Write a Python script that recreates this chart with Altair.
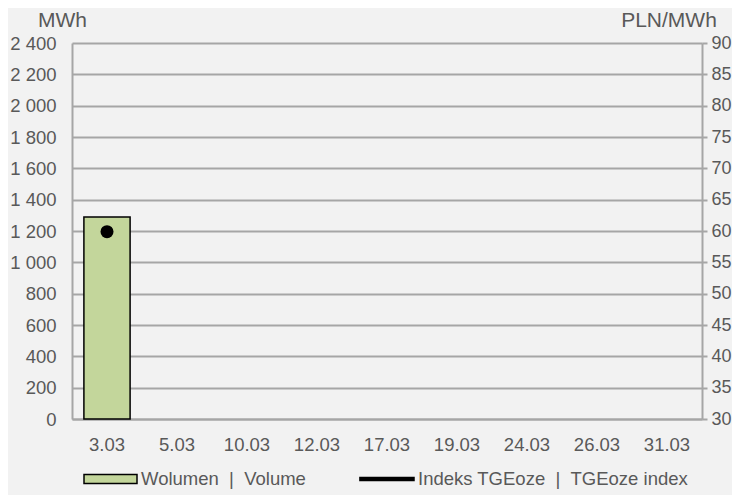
import altair as alt
import pandas as pd

dates = ["3.03", "5.03", "10.03", "12.03", "17.03", "19.03", "24.03", "26.03", "31.03"]
volume = [1290, None, None, None, None, None, None, None, None]
index_price = [59.9, None, None, None, None, None, None, None, None]
series_names = ["Wolumen\u00a0\u00a0|\u00a0\u00a0Volume",
                "Indeks TGEoze\u00a0\u00a0|\u00a0\u00a0TGEoze index"]
left_ticks = list(range(0, 2401, 200))
right_ticks = list(range(30, 91, 5))

rows = []
for d, v, p in zip(dates, volume, index_price):
    rows.append({"date": d, "series": series_names[0], "value": v})
    rows.append({"date": d, "series": series_names[1], "value": p})
df = pd.DataFrame(rows)

TXT = "#595959"
GRID = "#a6a6a6"
FONT = "Liberation Sans"

x_enc = alt.X(
    "date:N",
    sort=dates,
    scale=alt.Scale(domain=dates, paddingInner=0.34, paddingOuter=0.17),
    axis=alt.Axis(title=None, labelAngle=0, ticks=False, labelPadding=16,
                  labelFontSize=18.5, labelColor=TXT, domainColor=GRID,
                  domainWidth=2, labelFont=FONT),
)

bar = alt.Chart(df).transform_filter(
    alt.datum.series == series_names[0]
).mark_bar(fill="#c3d69b", stroke="black", strokeWidth=1.5).encode(
    x=x_enc,
    y=alt.Y(
        "value:Q",
        scale=alt.Scale(domain=[0, 2400], nice=False),
        axis=alt.Axis(
            title="MWh", titleAngle=0, titleX=-10, titleY=-17,
            titleAlign="center", titleBaseline="alphabetic",
            titleFontSize=21, titleFontWeight="normal", titleColor=TXT,
            titleFont=FONT, labelFont=FONT, labelOverlap=False,
            labelFontSize=18.5, labelColor=TXT, labelPadding=16,
            ticks=False, values=left_ticks, grid=True, gridColor=GRID,
            gridWidth=2, domainColor=GRID, domainWidth=2,
            labelExpr="replace(format(datum.value, ','), ',', ' ')",
        ),
    ),
)

legend_layer = alt.Chart(df).mark_point(
    filled=True, size=0, opacity=1, stroke="black", strokeWidth=1.5
).encode(
    x=alt.X("date:N", sort=dates),
    y=alt.Y("value:Q", axis=None),
    color=alt.Color(
        "series:N",
        scale=alt.Scale(domain=series_names, range=["#c3d69b", "black"]),
        legend=alt.Legend(
            title=None, orient="none", legendX=11, legendY=408.5,
            direction="horizontal", symbolStrokeColor="black",
            symbolStrokeWidth=1.5, symbolOpacity=1, labelFontSize=18.5,
            labelColor=TXT, labelFont=FONT, labelOffset=3, columnPadding=50,
            symbolSize=2809, padding=0, labelLimit=500,
        ),
    ),
    shape=alt.Shape(
        "series:N",
        scale=alt.Scale(
            domain=series_names,
            range=["M-1,-0.17H1V0.17H-1Z", "M-1.04,-0.06H1V0.06H-1.04Z"],
        ),
        legend=alt.Legend(title=None),
    ),
)

point = alt.Chart(df).transform_filter(
    alt.datum.series == series_names[1]
).mark_point(filled=True, size=169, color="black", opacity=1).encode(
    x=x_enc,
    y=alt.Y(
        "value:Q",
        scale=alt.Scale(domain=[30, 90], nice=False),
        axis=alt.Axis(
            orient="right", title="PLN/MWh", titleAngle=0, titleX=-33.5,
            titleY=-17, titleAlign="center", titleBaseline="alphabetic",
            titleFontSize=21, titleFontWeight="normal", titleColor=TXT,
            titleFont=FONT, labelFont=FONT, labelOverlap=False,
            labelFontSize=18, labelColor=TXT, labelPadding=4,
            ticks=True, tickSize=5, tickColor=GRID, tickWidth=2,
            values=right_ticks, grid=False, domainColor=GRID, domainWidth=2,
        ),
    ),
)

chart = alt.layer(bar, point, legend_layer).resolve_scale(
    y="independent"
).properties(
    width=630, height=376,
    autosize=alt.AutoSizeParams(type="none"),
    padding={"left": 64, "top": 35, "right": 30, "bottom": 76},
    background="#f2f2f2",
).configure_view(stroke=None)

chart.save("out.html", embed_options={"renderer": "svg", "actions": False})
